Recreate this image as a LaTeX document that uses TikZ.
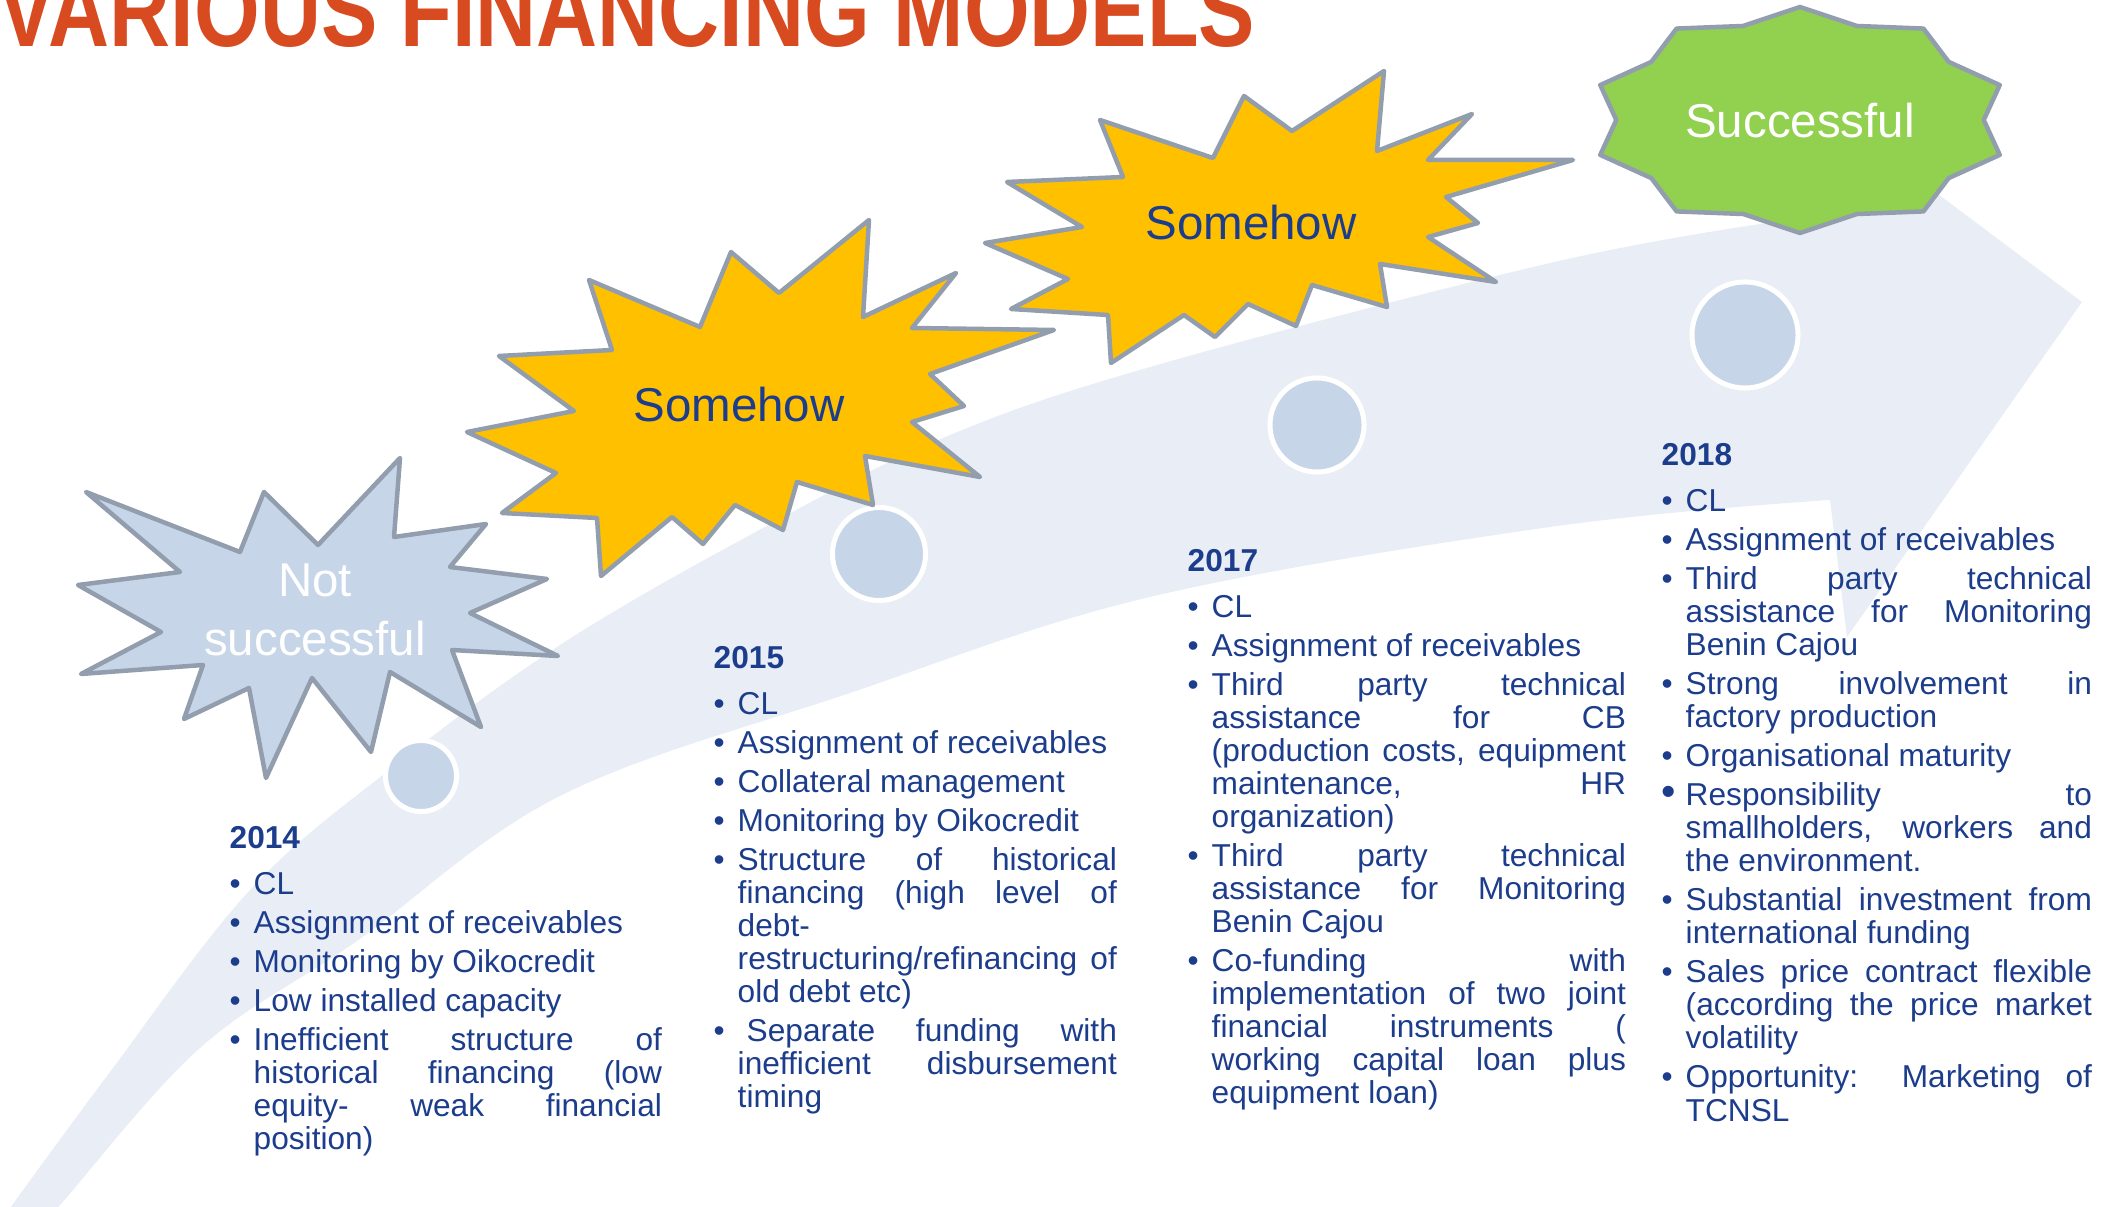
\documentclass[tikz,border=0pt]{standalone}
\usepackage{fontspec}
\setmainfont{Liberation Sans}
\usepackage{graphicx}

\definecolor{titlered}{RGB}{216,74,32}
\definecolor{txtblue}{RGB}{28,60,140}
\definecolor{bandblue}{RGB}{233,238,246}
\definecolor{dotblue}{RGB}{198,213,232}
\definecolor{burstgray}{RGB}{146,158,173}
\definecolor{burstyellow}{RGB}{255,192,0}
\definecolor{burstgreen}{RGB}{146,208,80}

% justified columns, breaks are set by hand
\hyphenpenalty=10000
\exhyphenpenalty=10000
\tolerance=10000
\hbadness=10000
\lineskiplimit=-10pt

\newlength{\bulletind}
\setlength{\bulletind}{0.24cm}
\newcommand{\bitem}[1][1]{\par\vspace{0.06cm}\hangindent=\bulletind\hangafter=1\noindent\makebox[\bulletind][l]{\scalebox{#1}{•}}\ignorespaces}
\newcommand{\yearhead}[1]{\leftskip=0pt \rightskip=0pt \parfillskip=0pt plus 1fil \spaceskip=0pt \xspaceskip=0pt
	\noindent\textbf{#1}\par\vspace{0.06cm}}

\begin{document}
\begin{tikzpicture}[x=0.01cm, y=-0.01cm,
		burst/.style={draw=burstgray, line width=0.045cm, line join=round},
		dot/.style={circle, fill=dotblue, draw=white, line width=0.05cm, inner sep=0pt},
		burstlabel/.style={font=\fontsize{13.5pt}{16.8pt}\selectfont, align=center, inner sep=0pt},
		yearblock/.style={anchor=base west, inner sep=0pt, text=txtblue, text width=#1,
			font=\fontsize{9pt}{9.4pt}\selectfont}]
	\useasboundingbox (0,0) rectangle (2118,1207);
	% curved arrow in the back
	\begin{scope}
		\clip (0,0) rectangle (2118,1207);
		\fill[bandblue] plot[smooth, tension=0.6] coordinates {(5,1215) (107,1076) (250,890) (393,767) (560,645) (750,535) (938,440) (1150,367) (1550,263) (1767,223)}
			-- (1747,51) -- (2082,302) -- (1847,637) -- (1830,500)
			-- plot[smooth, tension=0.6] coordinates {(1830,500) (1550,527) (1150,597) (850,693) (560,796) (357,941) (200,1048) (61,1204) (50,1215)} -- cycle;
	\end{scope}
	% milestones
	\node[dot, minimum size=0.71cm] (d2014) at (421,776) {};
	\node[dot, minimum size=0.93cm] (d2015) at (879,554) {};
	\node[dot, minimum size=0.94cm] (d2017) at (1317,425) {};
	\node[dot, minimum size=1.06cm] (d2018) at (1745,335) {};
	% bursts
	\draw[burst, fill=dotblue] (86,492) -- (240,552) -- (264,492) -- (318,545) -- (400,458) -- (394,537)
		-- (486,524) -- (450,567) -- (547,579) -- (470,613) -- (558,656) -- (452,650) -- (481,727)
		-- (390,672) -- (371,752) -- (312,678) -- (266,778) -- (249,688) -- (184,719) -- (203,665)
		-- (81,674) -- (161,632) -- (78,585) -- (180,572) -- cycle;
	\draw[burst, fill=burstyellow] (589,280) -- (700,327) -- (731,252) -- (779,293) -- (869,220) -- (863,317)
		-- (956,273) -- (912,328) -- (1054,330) -- (930,374) -- (964,406) -- (912,422) -- (980,477)
		-- (865,456) -- (873,505) -- (797,482) -- (783,530) -- (735,505) -- (703,544) -- (672,517)
		-- (601,576) -- (597,518) -- (502,513) -- (556,473) -- (467,432) -- (574,411) -- (499,356)
		-- (612,350) -- cycle;
	\draw[burst, fill=burstyellow] (1007,182) -- (1123,177) -- (1100,120) -- (1213,158) -- (1244,96) -- (1292,131)
		-- (1384,71) -- (1377,151) -- (1472,114) -- (1428,160) -- (1573,160) -- (1446,197) -- (1478,223)
		-- (1428,237) -- (1496,282) -- (1380,264) -- (1387,307) -- (1312,285) -- (1296,326) -- (1248,304)
		-- (1215,337) -- (1184,315) -- (1111,363) -- (1108,315) -- (1011,309) -- (1068,279) -- (985,243)
		-- (1082,227) -- cycle;
	\draw[burst, fill=burstgreen] plot[samples at={0,...,19}, variable=\k]
		({1800+210*(1-0.125*mod(\k,2))*cos(90+18*\k)}, {120+113*(1-0.125*mod(\k,2))*sin(90+18*\k)}) -- cycle;
	% burst labels
	\node[burstlabel, text=white] (notok) at (315,610) {Not\\successful};
	\node[burstlabel, text=txtblue] (some1) at (739,405) {Somehow};
	\node[burstlabel, text=txtblue] (some2) at (1251,223) {Somehow};
	\node[burstlabel, text=white] (okay) at (1800,121) {Successful};
	% year columns
	\node[yearblock=4.32cm] (y2014) at (229,849) {\yearhead{2014}
		\bitem CL
		\bitem Assignment of receivables
		\bitem Monitoring by Oikocredit
		\bitem Low installed capacity
		\bitem Inefficient structure of\linebreak historical financing (low\linebreak equity- weak financial\linebreak position)\par};
	\node[yearblock=4.03cm] (y2015) at (713,669) {\yearhead{2015}
		\bitem CL
		\bitem Assignment of receivables
		\bitem Collateral management
		\bitem Monitoring by Oikocredit
		\bitem Structure of historical\linebreak financing (high level of\linebreak debt-\newline restructuring/refinancing of\linebreak old debt etc)
		\bitem \hspace*{0.09cm}Separate funding with\linebreak inefficient disbursement\linebreak timing\par};
	\node[yearblock=4.38cm] (y2017) at (1187,572) {\yearhead{2017}
		\bitem CL
		\bitem Assignment of receivables
		\bitem Third party technical\linebreak assistance for CB\linebreak (production costs, equipment\linebreak maintenance, HR\linebreak organization)
		\bitem Third party technical\linebreak assistance for Monitoring\linebreak Benin Cajou
		\bitem Co-funding with\linebreak implementation of two joint\linebreak financial instruments (\linebreak working capital loan plus\linebreak equipment loan)\par};
	\node[yearblock=4.30cm] (y2018) at (1661,466) {\yearhead{2018}
		\bitem CL
		\bitem Assignment of receivables
		\bitem Third party technical\linebreak assistance for Monitoring\linebreak Benin Cajou
		\bitem Strong involvement in\linebreak factory production
		\bitem Organisational maturity
		\bitem[1.3] Responsibility to\linebreak smallholders, workers and\linebreak the environment.
		\bitem Substantial investment from\linebreak international funding
		\bitem Sales price contract flexible\linebreak (according the price market\linebreak volatility
		\bitem Opportunity: Marketing of\linebreak TCNSL\par};
	% heading
	\node[anchor=base west, inner sep=0pt, text=titlered, font=\fontsize{29.3pt}{30pt}\selectfont\bfseries] (title) at (-2,47)
		{\scalebox{0.82}[1]{VARIOUS FINANCING MODELS}};
\end{tikzpicture}
\end{document}
